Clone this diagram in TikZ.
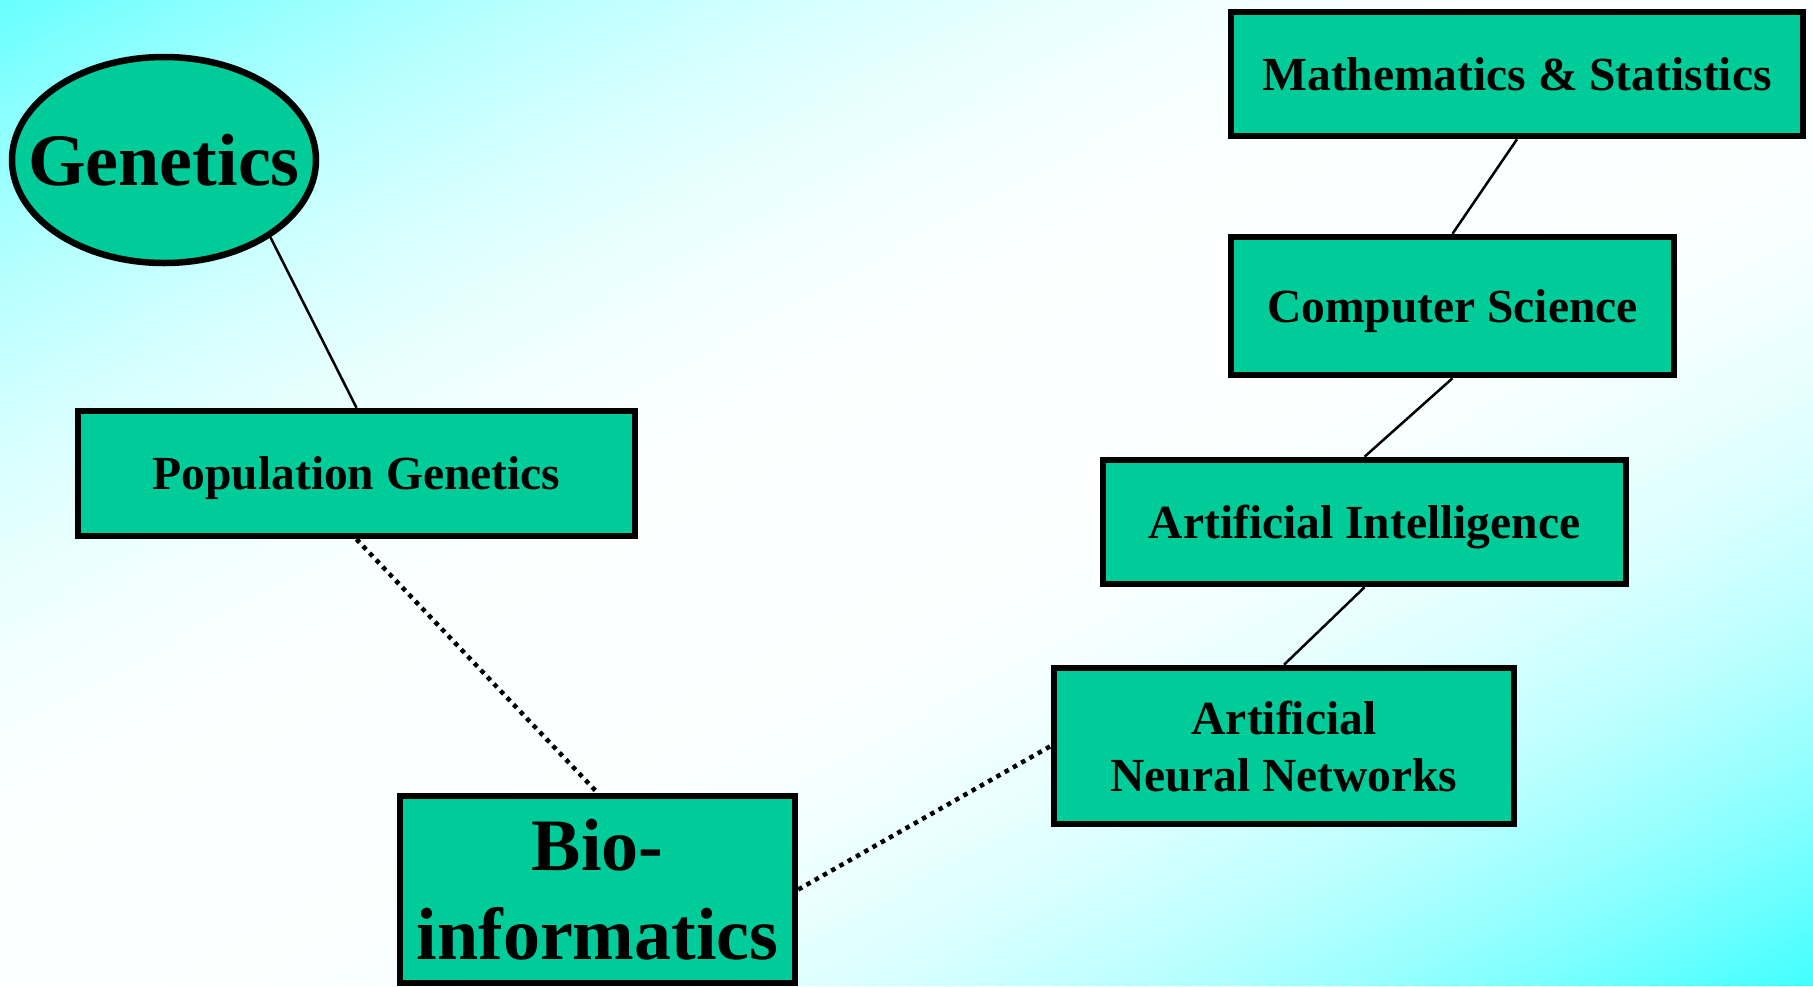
\documentclass[tikz,border=0pt]{standalone}
\usepackage{fontspec}
\setmainfont{Liberation Serif}
\usetikzlibrary{shapes.geometric}
\definecolor{boxfill}{RGB}{0,204,153}
\tikzset{
  topic/.style={draw=black, line width=6.5pt, fill=boxfill, inner sep=0pt,
    font=\fontsize{47.5}{57}\selectfont\bfseries, align=center, text depth=0pt},
  bigtopic/.style={topic, font=\fontsize{74}{89}\selectfont\bfseries},
  bigtext/.style={inner sep=0pt, font=\fontsize{74}{89}\selectfont\bfseries, text depth=0pt},
  solidlink/.style={draw=black, line width=2.5pt},
  dottedlink/.style={draw=black, line width=4.5pt, dash pattern=on 4.5pt off 5pt}
}
\begin{document}
\begin{tikzpicture}[x=1pt,y=-1pt]
\useasboundingbox (0,0) rectangle (1813,986);
\begin{scope}
  \clip (0,0) rectangle (1813,986);
  \foreach \i in {0,...,199}{
    \pgfmathsetmacro{\sa}{2*\i/200}
    \pgfmathsetmacro{\sb}{2*(\i+1)/200+0.004}
    \pgfmathsetmacro{\sm}{(2*\i+1)/200}
    \pgfmathsetmacro{\q}{abs(\sm-1)^2.2}
    \pgfmathtruncatemacro{\rr}{\sm<1 ? 102+153*(1-\q) : 64+191*(1-\q)}
    \definecolor{stripcol}{RGB}{\rr,255,255}
    \fill[stripcol] ({\sa*1813},0) -- ({\sb*1813},0) -- ({(\sb-1)*1813},986) -- ({(\sa-1)*1813},986) -- cycle;
  }
\end{scope}

\node[topic, ellipse, minimum width=304pt, minimum height=206pt] (G) at (164,160) {};
\node[bigtext] (Gt) at (G.center) {Genetics};
\node[topic, minimum width=557pt, minimum height=125pt] (PG) at (356.5,473.5) {Population Genetics};
\node[bigtopic, minimum width=395pt, minimum height=187pt] (BI) at (597.5,889.5) {Bio-\\informatics};
\node[topic, minimum width=460pt, minimum height=156pt] (ANN) at (1284,746) {Artificial\\Neural Networks};
\node[topic, minimum width=523pt, minimum height=124pt] (AI) at (1364.5,522) {Artificial Intelligence};
\node[topic, minimum width=443pt, minimum height=138pt] (CS) at (1452.5,306) {Computer Science};
\node[topic, minimum width=572pt, minimum height=124pt] (MS) at (1517,74) {Mathematics \& Statistics};

\draw[solidlink] (G.-36) -- (PG.north);
\draw[dottedlink] (PG.south) -- (BI.north);
\draw[dottedlink] (BI.east) -- (ANN.west);
\draw[solidlink] (ANN.north) -- (AI.south);
\draw[solidlink] (AI.north) -- (CS.south);
\draw[solidlink] (CS.north) -- (MS.south);
\end{tikzpicture}
\end{document}
